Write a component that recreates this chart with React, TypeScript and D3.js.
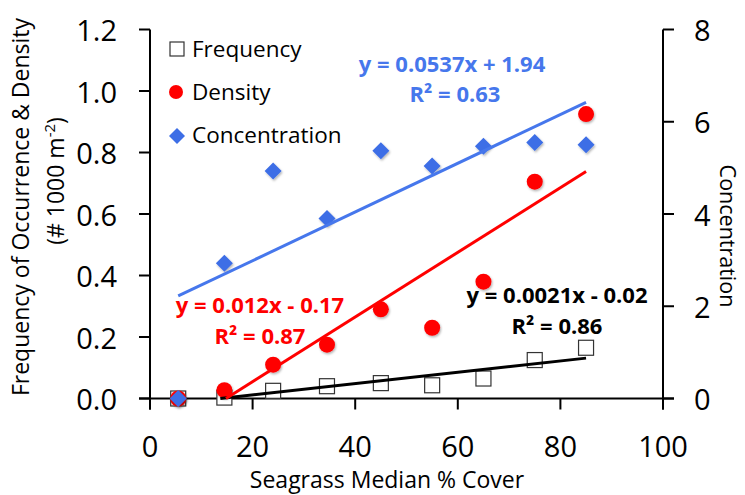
import React from "react";
import * as d3 from "d3";

const xCover = [5.5, 14.5, 24, 34.5, 45, 55, 65, 75, 85];
const frequency = [0, 0.003, 0.025, 0.04, 0.05, 0.043, 0.065, 0.125, 0.165];
const density = [0, 0.027, 0.11, 0.175, 0.29, 0.23, 0.38, 0.705, 0.925];
const concentration = [0, 2.93, 4.93, 3.9, 5.37, 5.04, 5.47, 5.55, 5.5];

const xTicks = [0, 20, 40, 60, 80, 100];
const leftTicks = [0, 0.2, 0.4, 0.6, 0.8, 1.0, 1.2];
const rightTicks = [0, 2, 4, 6, 8];

const legendLabels = ["Frequency", "Density", "Concentration"];
const eqBlue = ["y = 0.0537x + 1.94", "0.63"];
const eqRed = ["y = 0.012x - 0.17", "0.87"];
const eqBlack = ["y = 0.0021x - 0.02", "0.86"];

const FONT = "'Open Sans', Lato, sans-serif";
const BLUE = "#4677EC";
const BLUE_MK = "#3D6EE6";
const RED = "#FF0000";

function fit(xs: number[], ys: number[]) {
  const mx = d3.mean(xs) as number;
  const my = d3.mean(ys) as number;
  const sxy = d3.sum(xs.map((x, i) => (x - mx) * (ys[i] - my)));
  const sxx = d3.sum(xs.map((x) => (x - mx) * (x - mx)));
  const m = sxy / sxx;
  return { m, b: my - m * mx };
}

export default function App() {
  const W = 745, H = 495;
  const x = d3.scaleLinear().domain([0, 100]).range([150, 663]);
  const yL = d3.scaleLinear().domain([0, 1.2]).range([398.5, 29.5]);
  const yR = d3.scaleLinear().domain([0, 8]).range([398.5, 29.5]);

  const x0 = d3.min(xCover) as number;
  const x1 = d3.max(xCover) as number;
  const trend = (ys: number[], y: d3.ScaleLinear<number, number>) => {
    const { m, b } = fit(xCover, ys);
    let s = x0;
    if (m * s + b < 0) s = -b / m;
    const line = d3.line<number>().x((d) => x(d)).y((d) => y(m * d + b));
    return line([s, x1]) as string;
  };

  const xAxisY = yL(0);
  const sq = 15;
  const diamond = (cx: number, cy: number, r: number) =>
    `M${cx},${cy - r}L${cx + r},${cy}L${cx},${cy + r}L${cx - r},${cy}Z`;

  return (
    <div style={{ position: "fixed", left: 0, top: 0 }}>
      <svg width={W} height={H} style={{ display: "block", background: "#fff" }}>
        <defs>
          <filter id="sh" x="-50%" y="-50%" width="200%" height="200%">
            <feDropShadow dx="1" dy="1.5" stdDeviation="1" floodColor="#000" floodOpacity="0.3" />
          </filter>
        </defs>
        {/* axes */}
        <g stroke="#000" strokeWidth={2} fill="none">
          <line x1={x(0)} x2={x(0)} y1={yL(1.2)} y2={xAxisY + 11} />
          <line x1={x(100)} x2={x(100)} y1={yR(8)} y2={xAxisY + 11} />
          <line x1={x(0) - 11} x2={x(100) + 11} y1={xAxisY} y2={xAxisY} />
          {leftTicks.map((t) => (
            <line key={"lt" + t} x1={x(0) - 11} x2={x(0)} y1={yL(t)} y2={yL(t)} />
          ))}
          {rightTicks.map((t) => (
            <line key={"rt" + t} x1={x(100)} x2={x(100) + 11} y1={yR(t)} y2={yR(t)} />
          ))}
          {xTicks.map((t) => (
            <line key={"xt" + t} x1={x(t)} x2={x(t)} y1={xAxisY} y2={xAxisY + 11} />
          ))}
        </g>
        <g fontFamily={FONT} fontSize={29} fill="#000">
          {leftTicks.map((t) => (
            <text key={"ll" + t} x={117} y={yL(t)} dy="0.4em" textAnchor="end">
              {d3.format(".1f")(t)}
            </text>
          ))}
          {rightTicks.map((t) => (
            <text key={"rl" + t} x={694} y={yR(t)} dy="0.4em" textAnchor="start">
              {t}
            </text>
          ))}
          {xTicks.map((t) => (
            <text key={"xl" + t} x={x(t)} y={457} textAnchor="middle">
              {t}
            </text>
          ))}
        </g>
        {/* axis titles */}
        <g fontFamily={FONT} fontSize={23} fill="#000">
          <text x={387} y={488} textAnchor="middle">Seagrass Median % Cover</text>
          <text transform="translate(29,207) rotate(-90)" textAnchor="middle">
            Frequency of Occurrence &amp; Density
          </text>
          <text transform="translate(64,181) rotate(-90)" textAnchor="middle">
            (# 1000 m<tspan fontSize={15} dy={-9}>-2</tspan><tspan dy={9}>)</tspan>
          </text>
          <text transform="translate(720,236) rotate(90)" textAnchor="middle" fontSize={21.5}>Concentration</text>
        </g>
        {/* markers */}
        <g>
          {xCover.map((d, i) => (
            <rect key={"f" + i} x={x(d) - sq / 2} y={yL(frequency[i]) - sq / 2} width={sq} height={sq}
              fill="#fff" stroke="#333" strokeWidth={1.2} />
          ))}
          {xCover.map((d, i) => (
            <circle key={"d" + i} cx={x(d)} cy={yL(density[i])} r={8} fill={RED} filter="url(#sh)" />
          ))}
          {xCover.map((d, i) => (
            <path key={"c" + i} d={diamond(x(d), yR(concentration[i]), 8.5)} fill={BLUE_MK} filter="url(#sh)" />
          ))}
        </g>
        {/* trendlines */}
        <path d={trend(frequency, yL)} stroke="#000" strokeWidth={3} fill="none" />
        <path d={trend(density, yL)} stroke={RED} strokeWidth={3} fill="none" />
        <path d={trend(concentration, yR)} stroke={BLUE} strokeWidth={3} fill="none" />
        {/* legend */}
        <g fontFamily={FONT} fontSize={22.5} fill="#000">
          <rect x={170} y={42} width={14} height={14} fill="#fff" stroke="#333" strokeWidth={1.2} />
          <text x={192} y={57}>{legendLabels[0]}</text>
          <circle cx={176} cy={92} r={7} fill={RED} />
          <text x={192} y={100}>{legendLabels[1]}</text>
          <path d={diamond(177, 136, 8)} fill={BLUE_MK} />
          <text x={192} y={143}>{legendLabels[2]}</text>
        </g>
        {/* equations */}
        <g fontFamily={FONT} fontSize={22} fontWeight="bold" textAnchor="middle">
          <text x={452} y={72} fill={BLUE}>{eqBlue[0]}</text>
          <text x={455} y={102} fill={BLUE}>R² = {eqBlue[1]}</text>
          <text x={260} y={313} fill={RED}>{eqRed[0]}</text>
          <text x={260} y={344} fill={RED}>R² = {eqRed[1]}</text>
          <text x={557} y={303} fill="#000">{eqBlack[0]}</text>
          <text x={557} y={334} fill="#000">R² = {eqBlack[1]}</text>
        </g>
      </svg>
    </div>
  );
}
